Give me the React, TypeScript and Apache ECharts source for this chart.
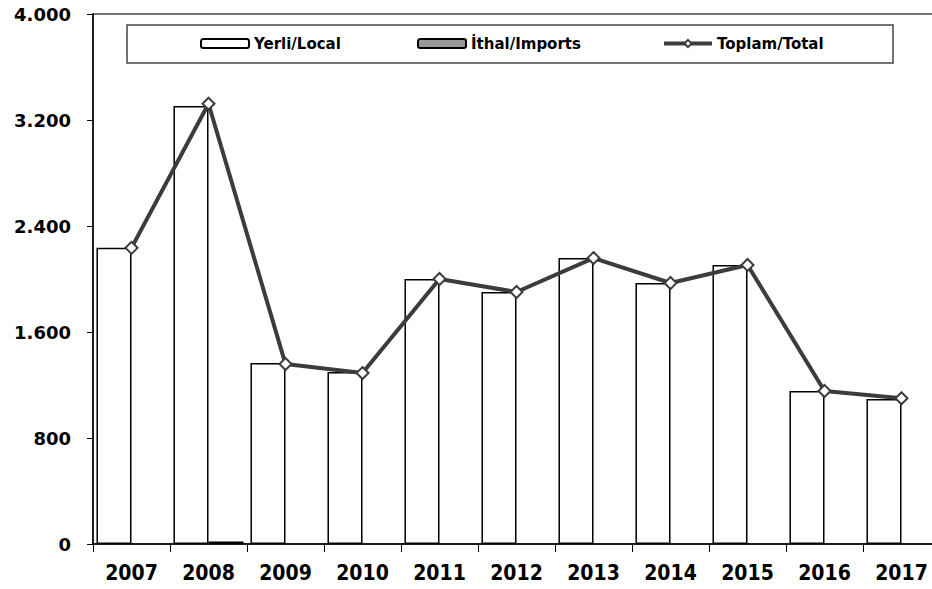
import React, { useEffect, useRef } from "react";
import * as echarts from "echarts";

const years = ["2007", "2008", "2009", "2010", "2011", "2012", "2013", "2014", "2015", "2016", "2017"];
const localValues = [2235, 3305, 1366, 1298, 2000, 1902, 2158, 1970, 2106, 1155, 1094];
const importValues: (number | null)[] = [null, 18, null, null, null, null, null, null, null, null, null];
const totalValues = [2235, 3323, 1358, 1290, 2000, 1902, 2158, 1970, 2106, 1155, 1100];
const yTickLabels = ["0", "800", "1.600", "2.400", "3.200", "4.000"];

const LOCAL = "Yerli/Local";
const IMPORTS = "İthal/Imports";
const TOTAL = "Toplam/Total";

export default function App() {
  const ref = useRef<HTMLDivElement>(null);
  useEffect(() => {
    if (!ref.current) return;
    const chart = echarts.init(ref.current, null, { renderer: "svg" });
    const legendText = {
      fontFamily: "DejaVu Sans",
      fontWeight: "bold" as const,
      fontSize: 15,
      color: "#000",
    };
    chart.setOption({
      animation: false,
      backgroundColor: "#fff",
      grid: {
        left: 93,
        top: 14,
        width: 847,
        height: 530,
        show: true,
        borderColor: "#444",
        borderWidth: 1.5,
        backgroundColor: "transparent",
      },
      graphic: [
        {
          type: "rect",
          shape: { x: 127, y: 25, width: 766, height: 38 },
          style: { fill: "#fff", stroke: "#444", lineWidth: 1.5 },
          z: 5,
        },
      ],
      legend: [
        {
          left: 200,
          top: 36,
          padding: 0,
          itemWidth: 48,
          itemHeight: 9,
          data: [LOCAL],
          textStyle: legendText,
          z: 10,
        },
        {
          left: 417,
          top: 36,
          padding: 0,
          itemWidth: 48,
          itemHeight: 9,
          data: [IMPORTS],
          textStyle: legendText,
          z: 10,
        },
        {
          left: 662,
          top: 36,
          padding: 0,
          itemWidth: 48,
          itemHeight: 9,
          data: [TOTAL],
          textStyle: legendText,
          lineStyle: { width: 4, color: "#3c3c3c" },
          z: 10,
        },
      ],
      xAxis: {
        type: "category",
        data: years,
        boundaryGap: true,
        axisLine: { lineStyle: { color: "#000", width: 1.5 } },
        axisTick: { show: true, length: 8, lineStyle: { color: "#000", width: 1 } },
        axisLabel: {
          margin: 18,
          fontFamily: "DejaVu Sans Condensed",
          fontWeight: "bold",
          fontSize: 21,
          color: "#000",
        },
        splitLine: { show: false },
      },
      yAxis: {
        type: "value",
        min: 0,
        max: 4000,
        interval: 800,
        axisLine: { show: true, lineStyle: { color: "#000", width: 1.5 } },
        axisTick: { show: true, length: 6, lineStyle: { color: "#000", width: 1 } },
        axisLabel: {
          margin: 22,
          fontFamily: "DejaVu Sans",
          fontWeight: "bold",
          fontSize: 18,
          color: "#000",
          formatter: (v: number) => yTickLabels[Math.round(v / 800)] ?? String(v),
        },
        splitLine: { show: false },
      },
      series: [
        {
          name: LOCAL,
          type: "bar",
          data: localValues,
          barGap: "0%",
          barCategoryGap: "9%",
          itemStyle: { color: "#fff", borderColor: "#000", borderWidth: 1.5 },
          z: 2,
        },
        {
          name: IMPORTS,
          type: "bar",
          data: importValues,
          barGap: "0%",
          barCategoryGap: "9%",
          itemStyle: { color: "#999", borderColor: "#000", borderWidth: 1.5 },
          z: 2,
        },
        {
          name: TOTAL,
          type: "line",
          data: totalValues,
          symbol: "diamond",
          symbolSize: 12,
          showAllSymbol: true,
          lineStyle: { color: "#3c3c3c", width: 4 },
          itemStyle: { color: "#fff", borderColor: "#3c3c3c", borderWidth: 2 },
          z: 4,
        },
      ],
    });
    return () => chart.dispose();
  }, []);
  return (
    <div
      style={{ position: "fixed", left: 0, top: 0, width: 932, height: 589, overflow: "hidden" }}
    >
      <div ref={ref} style={{ width: 960, height: 589 }} />
    </div>
  );
}
